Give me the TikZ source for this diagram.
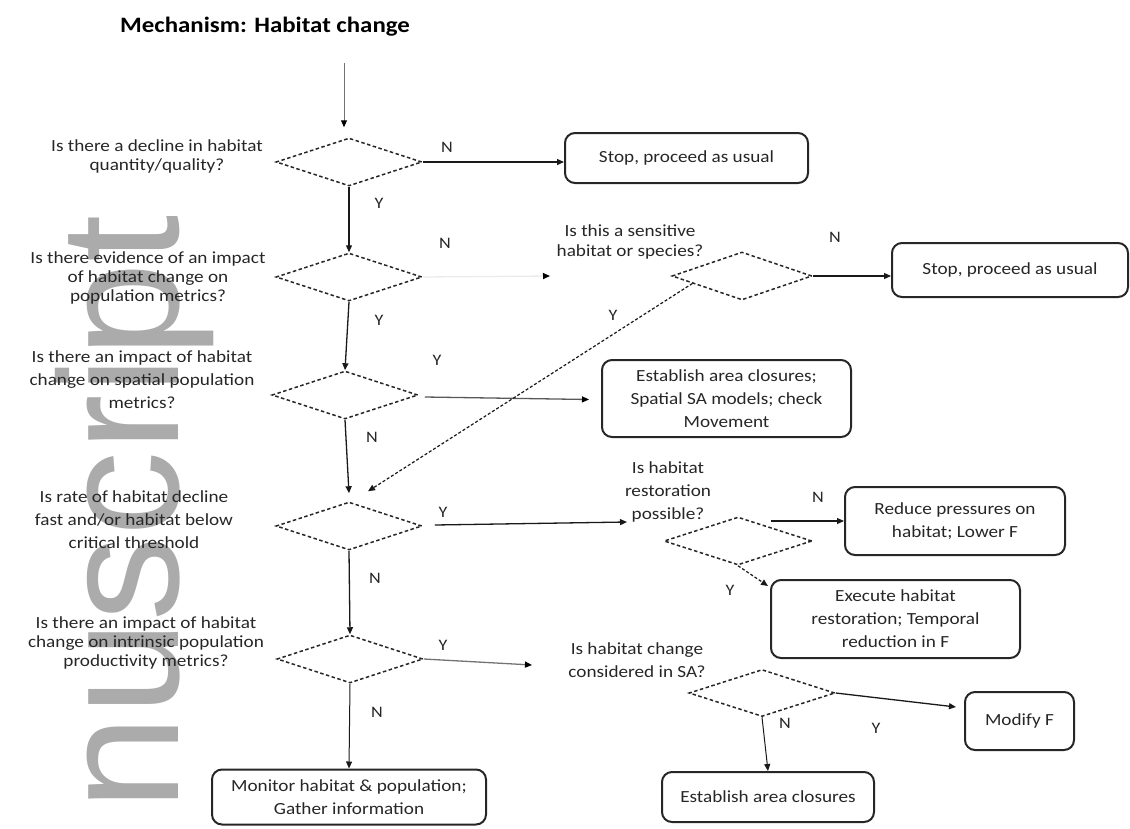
\documentclass[tikz,border=0pt]{standalone}
\usepackage{fontspec}
\setmainfont{Carlito}[FakeStretch=1.13]
\newfontfamily\wmfont{Liberation Sans}
\usetikzlibrary{shapes.geometric,arrows.meta,calc}
\begin{document}
\begin{tikzpicture}[x=1pt,y=-1pt,
  dia/.style={diamond,draw=black!85,dash pattern=on 3.5pt off 2.5pt,line width=1.5pt,inner sep=0pt,minimum width=146pt,minimum height=48pt},
  box/.style={draw=black!85,line width=2pt,rounded corners=10pt,align=center,font=\fontsize{17}{23}\selectfont,text=black!85,inner sep=2pt},
  qtext/.style={align=center,font=\fontsize{17}{19}\selectfont,text=black!85,inner sep=0pt},
  qwide/.style={qtext,font=\fontsize{17}{23}\selectfont},
  lbl/.style={font=\fontsize{16}{18}\selectfont,text=black!85,inner sep=0pt},
  arr/.style={-{Triangle[length=7pt,width=6pt]},line width=1.3pt,draw=black!90},
  farr/.style={-{Triangle[length=7pt,width=6pt,color=black]},line width=1.3pt},
  darr/.style={arr,dash pattern=on 3pt off 2pt,line width=1.2pt},
  wm/.style={rotate=90,anchor=base east,inner sep=0pt,font=\wmfont\fontsize{170}{170}\selectfont,text=black!33}
]
\useasboundingbox (0,0) rectangle (1130,828);
% watermark
\node[wm] (wmark) at (178,215) {nuscript};
% title
\node[font=\bfseries\fontsize{22}{25}\selectfont,inner sep=0pt] (title) at (265,27) {Mechanism: Habitat change};
% diamonds
\node[dia] (D1) at (349,162) {};
\node[dia] (D2) at (349,277) {};
\node[dia] (D3) at (345,395) {};
\node[dia] (D4) at (349,526) {};
\node[dia] (D5) at (350,659) {};
\node[dia,minimum width=140pt] (D6) at (742,276) {};
\node[dia,minimum width=148pt] (D7) at (738,541) {};
\node[dia,minimum height=47pt] (D8) at (762,693) {};
% questions
\node[qtext] (Q1) at (157,156) {Is there a decline in habitat\\quantity/quality?};
\node[qtext] (Q2) at (148,278) {Is there evidence of an impact\\of habitat change on\\population metrics?};
\node[qwide] (Q3) at (142,380) {Is there an impact of habitat\\change on spatial population\\metrics?};
\node[qwide] (Q4) at (134,520) {Is rate of habitat decline\\fast and/or habitat below\\critical threshold};
\node[qtext] (Q5) at (146,643) {Is there an impact of habitat\\change on intrinsic population\\productivity metrics?};
\node[qtext,font=\fontsize{17}{20}\selectfont] (S1) at (630,242) {Is this a sensitive\\habitat or species?};
\node[qwide] (S2) at (668,492) {Is habitat\\restoration\\possible?};
\node[qwide] (S3) at (637,660) {Is habitat change\\considered in SA?};
% boxes
\node[box,minimum width=243pt,minimum height=50pt] (B1) at (686.5,158) {Stop, proceed as usual};
\node[box,minimum width=236pt,minimum height=54pt] (B2) at (1010,270) {Stop, proceed as usual};
\node[box,minimum width=249pt,minimum height=77pt] (B3) at (726.5,398.5) {Establish area closures;\\Spatial SA models; check\\Movement};
\node[box,minimum width=220pt,minimum height=68pt] (B4) at (955,521) {Reduce pressures on\\habitat; Lower F};
\node[box,minimum width=249pt,minimum height=78pt] (B5) at (895.5,619) {Execute habitat\\restoration; Temporal\\reduction in F};
\node[box,minimum width=274pt,minimum height=55pt] (B6) at (349,797) {Monitor habitat \& population;\\Gather information};
\node[box,minimum width=212pt,minimum height=50pt] (B7) at (768,797) {Establish area closures};
\node[box,minimum width=109pt,minimum height=58pt] (B8) at (1019.5,721) {Modify F};
% labels
\node[lbl] (l1) at (447,147) {N};
\node[lbl] (l2) at (379,203) {Y};
\node[lbl] (l3) at (445,243) {N};
\node[lbl] (l4) at (379,320) {Y};
\node[lbl] (l5) at (437,360) {Y};
\node[lbl] (l6) at (372,437) {N};
\node[lbl] (l7) at (443,512) {Y};
\node[lbl] (l8) at (375,578) {N};
\node[lbl] (l9) at (443,645) {Y};
\node[lbl] (l10) at (377,712) {N};
\node[lbl] (l11) at (835,237) {N};
\node[lbl] (l12) at (613,315) {Y};
\node[lbl] (l13) at (818,497) {N};
\node[lbl] (l14) at (730,590) {Y};
\node[lbl] (l15) at (785,723) {N};
\node[lbl] (l16) at (876,728) {Y};
% connectors
\coordinate (start) at (344,63);
\draw[farr,line width=1pt,draw=black!55] (start) -- ($(D1.north)+(-5,-10)$);
\draw[arr] (D1.south) -- (D2.north);
\draw[arr] (D1.east) -- (D1.east -| B1.west);
\coordinate (s1in) at (550,276);
\draw[farr,draw=black!8] (D2.east) -- (s1in);
\draw[arr] (D2.south) -- (D3.north);
\draw[farr,draw=black!65] ($(D3.east)+(6,2)$) -- ($(B3.west)+(-12,1)$);
\draw[arr] (D3.south) -- ($(D4.north)+(0,-8)$);
\draw[arr] (D4.south) -- (D5.north);
\draw[darr] ($(D6.west)!0.3!(D6.south)$) -- ($(D4.north)+(19,-10)$);
\draw[arr] (D6.east) -- (D6.east -| B2.west);
\coordinate (s2in) at (627,522);
\draw[arr] ($(D4.east)+(12,-1)$) -- (s2in);
\coordinate (d7o) at (771,521);
\draw[arr,line width=1.1pt] (d7o) -- (d7o -| B4.west);
\draw[darr] (D7.south) -- ($(B5.north west)+(-2,7)$);
\coordinate (s3in) at (532,665);
\draw[farr,draw=black!55] (D5.east) -- (s3in);
\draw[arr,line width=1pt] (D5.south) -- (B6.north);
\draw[arr] (D8.east) -- ($(B8.west)+(-8,-14)$);
\draw[arr,line width=1pt] (D8.south) -- (B7.north);
\end{tikzpicture}
\end{document}
